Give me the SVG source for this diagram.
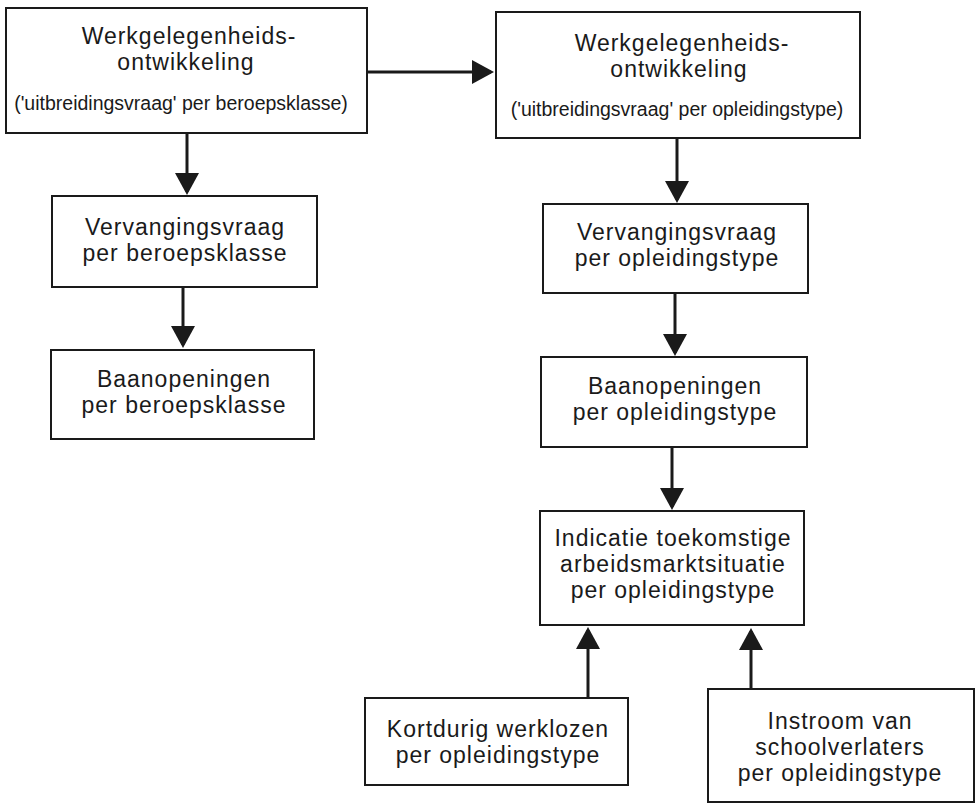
<svg xmlns="http://www.w3.org/2000/svg" width="977" height="805" viewBox="0 0 977 805">
<style>
.box{fill:#fff;stroke:#1a1a1a;stroke-width:2}
.t{font-family:"Liberation Sans",Arial,sans-serif;font-size:23px;letter-spacing:1px;fill:#1a1a1a;text-anchor:middle}
.s{font-family:"Liberation Sans",Arial,sans-serif;font-size:19.5px;fill:#1a1a1a;text-anchor:middle}
.c{fill:none;stroke:#1a1a1a;stroke-width:3}
</style>
<defs>
<marker id="ah" markerUnits="userSpaceOnUse" markerWidth="22" markerHeight="24" refX="19" refY="12" orient="auto">
<path d="M0,0 L22,12 L0,24 z" fill="#1a1a1a"/>
</marker>
</defs>
<rect width="977" height="805" fill="#fff"/>
<g id="connectors">
<path class="c" marker-end="url(#ah)" d="M367,72 H491"/>
<path class="c" marker-end="url(#ah)" d="M187,133 V192"/>
<path class="c" marker-end="url(#ah)" d="M183,287 V345"/>
<path class="c" marker-end="url(#ah)" d="M677,138 V200"/>
<path class="c" marker-end="url(#ah)" d="M675,293 V353"/>
<path class="c" marker-end="url(#ah)" d="M672,447 V507"/>
<path class="c" marker-end="url(#ah)" d="M588,698 V630"/>
<path class="c" marker-end="url(#ah)" d="M751,689 V631"/>
</g>
<g id="werkgelegenheid-beroep">
<rect class="box" x="6" y="8" width="361" height="125"/>
<text class="t" x="189" y="44">Werkgelegenheids-</text>
<text class="t" x="186" y="70">ontwikkeling</text>
<text class="s" x="181" y="110">('uitbreidingsvraag' per beroepsklasse)</text>
</g>
<g id="werkgelegenheid-opleiding">
<rect class="box" x="496" y="12" width="364" height="126"/>
<text class="t" x="682" y="51">Werkgelegenheids-</text>
<text class="t" x="679" y="77">ontwikkeling</text>
<text class="s" x="677" y="116">('uitbreidingsvraag' per opleidingstype)</text>
</g>
<g id="vervanging-beroep">
<rect class="box" x="52" y="196" width="265" height="91"/>
<text class="t" x="185" y="235">Vervangingsvraag</text>
<text class="t" x="185" y="261">per beroepsklasse</text>
</g>
<g id="baanopeningen-beroep">
<rect class="box" x="51" y="350" width="263" height="89"/>
<text class="t" x="184" y="387">Baanopeningen</text>
<text class="t" x="184" y="413">per beroepsklasse</text>
</g>
<g id="vervanging-opleiding">
<rect class="box" x="543" y="204" width="265" height="89"/>
<text class="t" x="677" y="240">Vervangingsvraag</text>
<text class="t" x="677" y="266">per opleidingstype</text>
</g>
<g id="baanopeningen-opleiding">
<rect class="box" x="541" y="357" width="266" height="90"/>
<text class="t" x="675" y="394">Baanopeningen</text>
<text class="t" x="675" y="420">per opleidingstype</text>
</g>
<g id="indicatie">
<rect class="box" x="540" y="511" width="264" height="114"/>
<text class="t" x="673" y="546">Indicatie toekomstige</text>
<text class="t" x="673" y="572">arbeidsmarktsituatie</text>
<text class="t" x="673" y="598">per opleidingstype</text>
</g>
<g id="kortdurig">
<rect class="box" x="365" y="698" width="263" height="87"/>
<text class="t" x="498" y="737">Kortdurig werklozen</text>
<text class="t" x="498" y="763">per opleidingstype</text>
</g>
<g id="instroom">
<rect class="box" x="708" y="689" width="266" height="113"/>
<text class="t" x="840" y="729">Instroom van</text>
<text class="t" x="840" y="755">schoolverlaters</text>
<text class="t" x="840" y="781">per opleidingstype</text>
</g>
</svg>
